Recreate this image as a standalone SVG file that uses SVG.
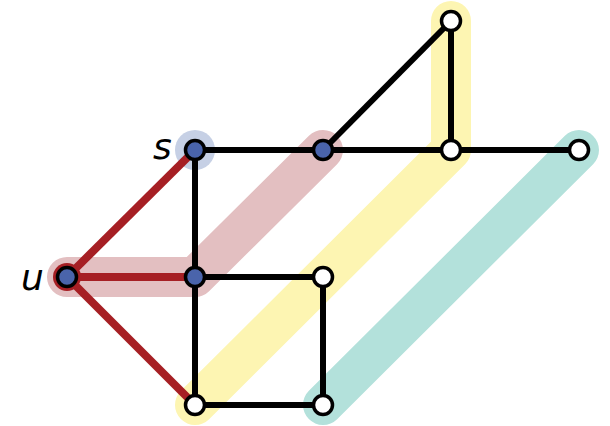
<svg xmlns="http://www.w3.org/2000/svg" width="610" height="426" viewBox="0 0 610 426">
<style>
.band{fill:none;stroke-width:40;stroke-linecap:round;stroke-linejoin:round}
.e{stroke:#000;stroke-width:6;fill:none}
.r{stroke:#a61f24;stroke-width:8;fill:none}
.nb{fill:#4a64ab;stroke:#000;stroke-width:3.5}
.nw{fill:#fff;stroke:#000;stroke-width:3.5}
.lbl{font-family:"DejaVu Sans",sans-serif;font-style:italic;font-size:36px;fill:#000}
</style>
<rect width="610" height="426" fill="#fff"/>
<g id="highlights">
<path class="band" stroke="#fdf5b2" d="M451,21 L451,150 L195,405"/>
<path class="band" stroke="#b3e1db" d="M579,150 L323,405"/>
<path class="band" stroke="#e3bfc1" d="M67,277 L195,277 L323,150"/>
<circle cx="195" cy="150" r="20" fill="#c6d0e5"/>
<circle cx="67" cy="277" r="14" fill="#a61f24"/>
</g>
<g id="connectors">
<line class="e" x1="195" y1="150" x2="579" y2="150"/>
<line class="e" x1="323" y1="150" x2="451" y2="21"/>
<line class="e" x1="451" y1="21" x2="451" y2="150"/>
<line class="e" x1="195" y1="150" x2="195" y2="405"/>
<polyline class="e" points="195,277 323,277 323,405 195,405"/>
<line class="r" x1="67" y1="277" x2="195" y2="150"/>
<line class="r" x1="67" y1="277" x2="195" y2="277"/>
<line class="r" x1="67" y1="277" x2="195" y2="405"/>
</g>
<g id="n-s"><circle class="nb" cx="195" cy="150" r="9.5"/><text class="lbl" x="153" y="159">s</text></g>
<g id="n-u"><circle class="nb" cx="67" cy="277" r="9.5"/><text class="lbl" x="21" y="290">u</text></g>
<g id="n-a"><circle class="nb" cx="323" cy="150" r="9.5"/></g>
<g id="n-b"><circle class="nw" cx="451" cy="21" r="9.5"/></g>
<g id="n-c"><circle class="nw" cx="451" cy="150" r="9.5"/></g>
<g id="n-d"><circle class="nw" cx="579" cy="150" r="9.5"/></g>
<g id="n-e"><circle class="nb" cx="195" cy="277" r="9.5"/></g>
<g id="n-f"><circle class="nw" cx="323" cy="277" r="9.5"/></g>
<g id="n-g"><circle class="nw" cx="195" cy="405" r="9.5"/></g>
<g id="n-h"><circle class="nw" cx="323" cy="405" r="9.5"/></g>
</svg>
